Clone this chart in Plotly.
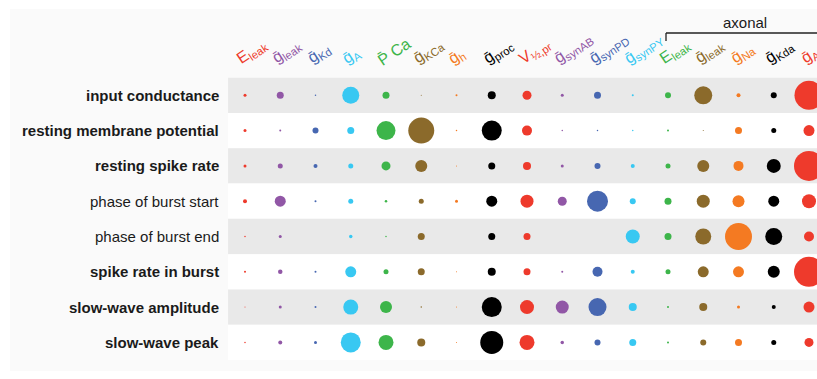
import plotly.graph_objects as go

# ---- data -------------------------------------------------------------
params = [
    "E<sub>leak</sub>", "ḡ<sub>leak</sub>", "ḡ<sub>Kd</sub>", "ḡ<sub>A</sub>",
    "P̄ Ca", "ḡ<sub>KCa</sub>", "ḡ<sub>h</sub>", "ḡ<sub>proc</sub>",
    "V<sub>½,pr</sub>", "ḡ<sub>synAB</sub>", "ḡ<sub>synPD</sub>", "ḡ<sub>synPY</sub>",
    "E<sub>leak</sub>", "ḡ<sub>leak</sub>", "ḡ<sub>Na</sub>", "ḡ<sub>Kda</sub>",
    "ḡ<sub>A</sub>",
]
param_colors = [
    "#EE3A2C", "#9157A6", "#4767B1", "#38C8F2", "#3DB54A", "#8B6A2B",
    "#F47A22", "#000000", "#EE3A2C", "#9157A6", "#4767B1", "#38C8F2",
    "#3DB54A", "#8B6A2B", "#F47A22", "#000000", "#EE3A2C",
]

properties = [
    "input conductance", "resting membrane potential", "resting spike rate",
    "phase of burst start", "phase of burst end", "spike rate in burst",
    "slow-wave amplitude", "slow-wave peak",
]
bold_property = [True, True, True, False, False, True, True, True]

# sensitivity magnitude of each property to each parameter
input_conductance     = [3, 7, 1.5, 17, 7, 1, 2, 8, 9, 3, 7, 2, 6, 18, 4, 6, 29]
resting_potential     = [3, 2, 6, 7, 19, 26, 1.5, 20, 10, 1.5, 1.5, 1.5, 2, 1, 7, 5, 11]
resting_spike_rate    = [3, 5, 4, 5, 9, 12, 1, 7, 8, 3, 6, 4, 5, 12, 10, 14, 30]
burst_start_phase     = [4, 11, 2, 5, 2.5, 5, 3, 11, 13, 9, 21, 6, 7, 13, 12, 11, 14]
burst_end_phase       = [1.5, 3, 0, 3.5, 1.5, 7, 0, 7, 7, 0, 0, 14, 7, 16, 27, 17, 10]
spike_rate_in_burst   = [2, 4.5, 2, 11, 5, 7, 1, 8, 7, 2, 10, 4, 5, 11, 11, 12, 30]
slow_wave_amplitude   = [1, 3, 2, 15, 12, 1.5, 1, 20, 14, 13, 18, 8, 2, 8, 3, 4, 11]
slow_wave_peak        = [1.5, 4, 3, 20, 15, 8, 1, 23, 15, 3.5, 6, 7, 2, 6, 7, 5, 9]

sensitivity = [
    input_conductance, resting_potential, resting_spike_rate, burst_start_phase,
    burst_end_phase, spike_rate_in_burst, slow_wave_amplitude, slow_wave_peak,
]

# ---- layout geometry ---------------------------------------------------
W, H = 817, 379
COL_PX0, COL_DX = 245.0, 35.25      # centre of first column, column pitch
ROW_PY0, ROW_DY = 95.3, 35.3        # centre of first row, row pitch

x_lo = -COL_PX0 / COL_DX
x_hi = x_lo + W / COL_DX
y_top = -ROW_PY0 / ROW_DY
y_bot = y_top + H / ROW_DY


def px(xp):
    return xp / W


def py(yp):
    return 1 - yp / H


FONT = "Liberation Sans, Arial, DejaVu Sans, sans-serif"
TEXT = "#1a1a1a"

# ---- marks -------------------------------------------------------------
xs, ys, sizes, colors = [], [], [], []
for r, row in enumerate(sensitivity):
    for c, v in enumerate(row):
        xs.append(c)
        ys.append(r)
        sizes.append(v)
        colors.append(param_colors[c])

fig = go.Figure(
    go.Scatter(
        x=xs, y=ys, mode="markers",
        marker=dict(size=sizes, sizemode="diameter", sizeref=1, color=colors,
                    line=dict(width=0), opacity=1),
        hoverinfo="skip", cliponaxis=True,
    )
)

shapes = [
    # light panel behind everything
    dict(type="rect", xref="paper", yref="paper", x0=px(10), x1=1.02,
         y0=py(371), y1=py(9), fillcolor="#fafafa", line=dict(width=0),
         layer="below"),
]
for r in range(len(properties)):
    shapes.append(dict(
        type="rect", xref="x", yref="y", x0=-0.48, x1=x_hi + 1,
        y0=r - 0.5, y1=r + 0.5,
        fillcolor="#e9e9e9" if r % 2 == 0 else "#ffffff",
        line=dict(width=0), layer="below"))

# bracket over the axonal parameters
shapes.append(dict(type="line", xref="paper", yref="paper",
                   x0=px(666), x1=1.02, y0=py(33), y1=py(33),
                   line=dict(color="#222", width=1.3)))
shapes.append(dict(type="line", xref="paper", yref="paper",
                   x0=px(666), x1=px(666), y0=py(33), y1=py(41),
                   line=dict(color="#222", width=1.3)))

annotations = [
    dict(text="axonal", xref="paper", yref="paper", x=px(745), y=py(22),
         xanchor="center", yanchor="middle", showarrow=False,
         font=dict(family=FONT, size=15, color=TEXT)),
]

for r, (name, bold) in enumerate(zip(properties, bold_property)):
    annotations.append(dict(
        text=f"<b>{name}</b>" if bold else name,
        xref="paper", yref="y", x=px(221), y=r,
        xanchor="right", yanchor="middle", showarrow=False,
        font=dict(family=FONT, size=15, color=TEXT)))

# slanted, coloured parameter names above the columns
for c, (label, col) in enumerate(zip(params, param_colors)):
    annotations.append(dict(
        text=label, xref="x", yref="paper", x=c, y=py(71),
        xshift=-14, xanchor="left", yanchor="bottom", textangle=-34,
        showarrow=False, font=dict(family=FONT, size=16, color=col)))

fig.update_layout(
    width=W, height=H,
    margin=dict(l=0, r=0, t=0, b=0, pad=0),
    paper_bgcolor="#ffffff", plot_bgcolor="rgba(0,0,0,0)",
    showlegend=False,
    xaxis=dict(range=[x_lo, x_hi], visible=False, fixedrange=True),
    yaxis=dict(range=[y_bot, y_top], visible=False, fixedrange=True),
    shapes=shapes, annotations=annotations,
)

fig.write_html("out.html", config={"displayModeBar": False})
